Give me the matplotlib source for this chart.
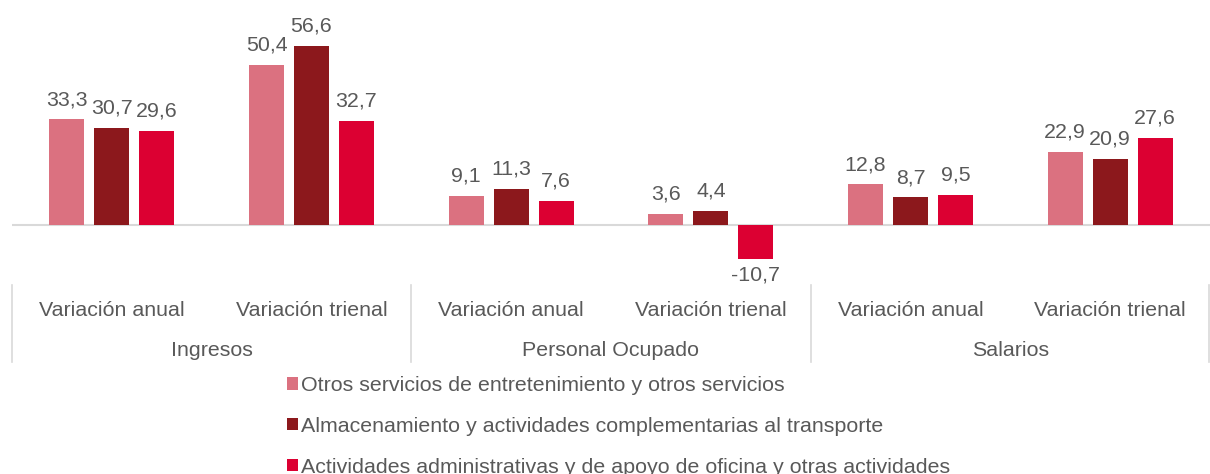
import matplotlib
matplotlib.use("Agg")
import matplotlib.pyplot as plt
from matplotlib.patches import Patch
from matplotlib.lines import Line2D
import numpy as np

plt.rcParams['font.family'] = ['Liberation Sans', 'DejaVu Sans']

groups = ["Ingresos", "Personal Ocupado", "Salarios"]
subcats = ["Variación anual", "Variación trienal"]
series_names = [
    "Otros servicios de entretenimiento y otros servicios",
    "Almacenamiento y actividades complementarias al transporte",
    "Actividades administrativas y de apoyo de oficina y otras actividades",
]
otros = [33.3, 50.4, 9.1, 3.6, 12.8, 22.9]
almacen = [30.7, 56.6, 11.3, 4.4, 8.7, 20.9]
administ = [29.6, 32.7, 7.6, -10.7, 9.5, 27.6]
colors = ["#DB7180", "#8C181C", "#DC0032"]
text_color = "#595959"

W, H = 1210, 474
fig = plt.figure(figsize=(W / 100, H / 100), dpi=100)
ax = fig.add_axes([12 / W, 1 - 270 / H, (1210 - 12) / W, 240 / H])
ax.set_xlim(-0.5, 5.5)
ppu = 3.17
ax.set_ylim(-(270 - 225) / ppu, (225 - 30) / ppu)
ax.axis('off')

x = np.arange(6)
bw = 0.175
off = 0.225
fs = 15.4
for i, (vals, c) in enumerate(zip([otros, almacen, administ], colors)):
    xs = x + (i - 1) * off
    ax.bar(xs, vals, width=bw, color=c, zorder=2)
    for xi, v in zip(xs, vals):
        lab = f"{v:.1f}".replace(".", ",")
        if v >= 0:
            ax.annotate(lab, (xi, v), xytext=(0, 7.5), textcoords='offset points',
                        ha='center', va='bottom', fontsize=fs, color=text_color)
        else:
            ax.annotate(lab, (xi, v), xytext=(0, -5), textcoords='offset points',
                        ha='center', va='top', fontsize=fs, color=text_color)

ax.axhline(0, color="#D9D9D9", lw=1.5, zorder=1)

def fx(px):
    return px / W
def fy(py):
    return 1 - py / H

for j in range(6):
    px = 12 + (j + 0.5) * (1198 / 6)
    fig.text(fx(px), fy(310), subcats[j % 2], ha='center', va='center',
             fontsize=fs, color=text_color)
for g in range(3):
    px = 12 + (g + 0.5) * (1198 / 3)
    fig.text(fx(px), fy(350), groups[g], ha='center', va='center',
             fontsize=fs, color=text_color)
for g in range(4):
    px = 12 + g * (1198 / 3)
    if g == 3:
        px = 1209
    fig.add_artist(Line2D([fx(px), fx(px)], [fy(285), fy(362)],
                          color="#D9D9D9", lw=1.2))

handles = [Patch(facecolor=c, edgecolor='none') for c in colors]
fig.legend(handles, series_names, loc='upper left',
           bbox_to_anchor=(fx(287), fy(376)), frameon=False,
           fontsize=fs, labelcolor=text_color, handlelength=0.5,
           handleheight=0.5, handletextpad=0.15, labelspacing=1.02,
           borderpad=0, borderaxespad=0)

fig.savefig("out.png", dpi=100)
